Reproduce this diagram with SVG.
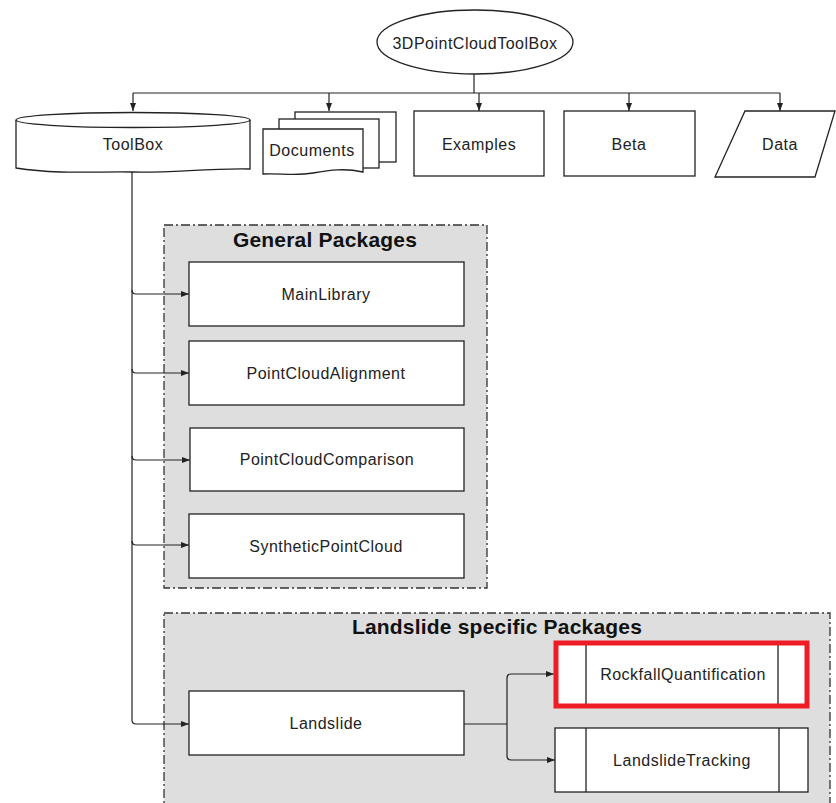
<svg xmlns="http://www.w3.org/2000/svg" width="836" height="803" viewBox="0 0 836 803">
<style>
.shape{fill:#fff;stroke:#222;stroke-width:1.3}
.grp{fill:#dedede;stroke:#333;stroke-width:1.3;stroke-dasharray:9,3,2,3}
.conn{fill:none;stroke:#222;stroke-width:1.2}
.t{font-family:"Liberation Sans",Arial,sans-serif;font-size:16px;letter-spacing:0.5px;fill:#222;text-anchor:middle;dominant-baseline:central}
.title{font-family:"Liberation Sans",Arial,sans-serif;font-size:21px;letter-spacing:0.2px;font-weight:bold;fill:#111;text-anchor:middle;dominant-baseline:central}
</style>
<defs>
<marker id="ah" markerWidth="8" markerHeight="6" refX="8" refY="3" orient="auto" markerUnits="userSpaceOnUse">
<path d="M0,0 L8,3 L0,6 z" fill="#222"/>
</marker>
</defs>
<rect width="836" height="803" fill="#fff"/>
<g id="group-general">
<rect class="grp" x="164" y="225" width="323" height="363"/>
<text class="title" x="325" y="239">General Packages</text>
</g>
<g id="group-landslide">
<rect class="grp" x="164" y="613" width="666" height="200"/>
<text class="title" x="497" y="626">Landslide specific Packages</text>
</g>
<g id="connectors">
<path class="conn" d="M474,74 V93"/>
<path class="conn" d="M133,93 H780"/>
<path class="conn" d="M133,93 V111" marker-end="url(#ah)"/>
<path class="conn" d="M329,93 V111" marker-end="url(#ah)"/>
<path class="conn" d="M479,93 V111" marker-end="url(#ah)"/>
<path class="conn" d="M629,93 V111" marker-end="url(#ah)"/>
<path class="conn" d="M780,93 V111" marker-end="url(#ah)"/>
<path class="conn" d="M132,172 V720 Q132,724 136,724 H189" marker-end="url(#ah)"/>
<path class="conn" d="M132,290 Q132,294 136,294 H189" marker-end="url(#ah)"/>
<path class="conn" d="M132,369 Q132,373 136,373 H189" marker-end="url(#ah)"/>
<path class="conn" d="M132,456 Q132,460 136,460 H190" marker-end="url(#ah)"/>
<path class="conn" d="M132,541 Q132,545 136,545 H189" marker-end="url(#ah)"/>
<path class="conn" d="M464,724 H507"/>
<path class="conn" d="M507,724 V678 Q507,674 511,674 H554" marker-end="url(#ah)"/>
<path class="conn" d="M507,724 V756 Q507,760 511,760 H555" marker-end="url(#ah)"/>
</g>
<g id="node-root">
<ellipse class="shape" cx="475" cy="42" rx="98" ry="32"/>
<text class="t" x="475" y="43">3DPointCloudToolBox</text>
</g>
<g id="node-toolbox">
<path class="shape" d="M16,120 V168 C60,175 100,171 133,172 C170,173 210,168 250,169 V120"/>
<ellipse class="shape" cx="133" cy="120" rx="117" ry="7.5"/>
<text class="t" x="133" y="144">ToolBox</text>
</g>
<g id="node-documents">
<rect class="shape" x="295" y="112" width="101" height="50"/>
<rect class="shape" x="279" y="119" width="100" height="49"/>
<path class="shape" d="M263,129 H363 V172 C345,168 330,170 313,173 C295,176 280,173 263,174 Z"/>
<text class="t" x="312" y="150">Documents</text>
</g>
<g id="node-examples">
<rect class="shape" x="414" y="111" width="130" height="65"/>
<text class="t" x="479" y="144">Examples</text>
</g>
<g id="node-beta">
<rect class="shape" x="564" y="111" width="131" height="65"/>
<text class="t" x="629" y="144">Beta</text>
</g>
<g id="node-data">
<polygon class="shape" points="745,111 835,111 815,177 715,177"/>
<text class="t" x="780" y="144">Data</text>
</g>
<g id="node-mainlibrary">
<rect class="shape" x="189" y="262" width="275" height="64"/>
<text class="t" x="326" y="294">MainLibrary</text>
</g>
<g id="node-alignment">
<rect class="shape" x="189" y="341" width="275" height="64"/>
<text class="t" x="326" y="373">PointCloudAlignment</text>
</g>
<g id="node-comparison">
<rect class="shape" x="190" y="428" width="274" height="63"/>
<text class="t" x="327" y="459">PointCloudComparison</text>
</g>
<g id="node-synthetic">
<rect class="shape" x="189" y="514" width="275" height="64"/>
<text class="t" x="326" y="546">SyntheticPointCloud</text>
</g>
<g id="node-landslide">
<rect class="shape" x="189" y="691" width="275" height="64"/>
<text class="t" x="326" y="723">Landslide</text>
</g>
<g id="node-rockfall">
<rect class="shape" x="556" y="643" width="251" height="63"/>
<line class="shape" x1="586" y1="643" x2="586" y2="706"/>
<line class="shape" x1="778" y1="643" x2="778" y2="706"/>
<rect x="556" y="643" width="251" height="63" fill="none" stroke="#ee1c25" stroke-width="5"/>
<text class="t" x="683" y="674">RockfallQuantification</text>
</g>
<g id="node-tracking">
<rect class="shape" x="555" y="728" width="253" height="64"/>
<line class="shape" x1="586" y1="728" x2="586" y2="792"/>
<line class="shape" x1="779" y1="728" x2="779" y2="792"/>
<text class="t" x="682" y="760">LandslideTracking</text>
</g>
</svg>
